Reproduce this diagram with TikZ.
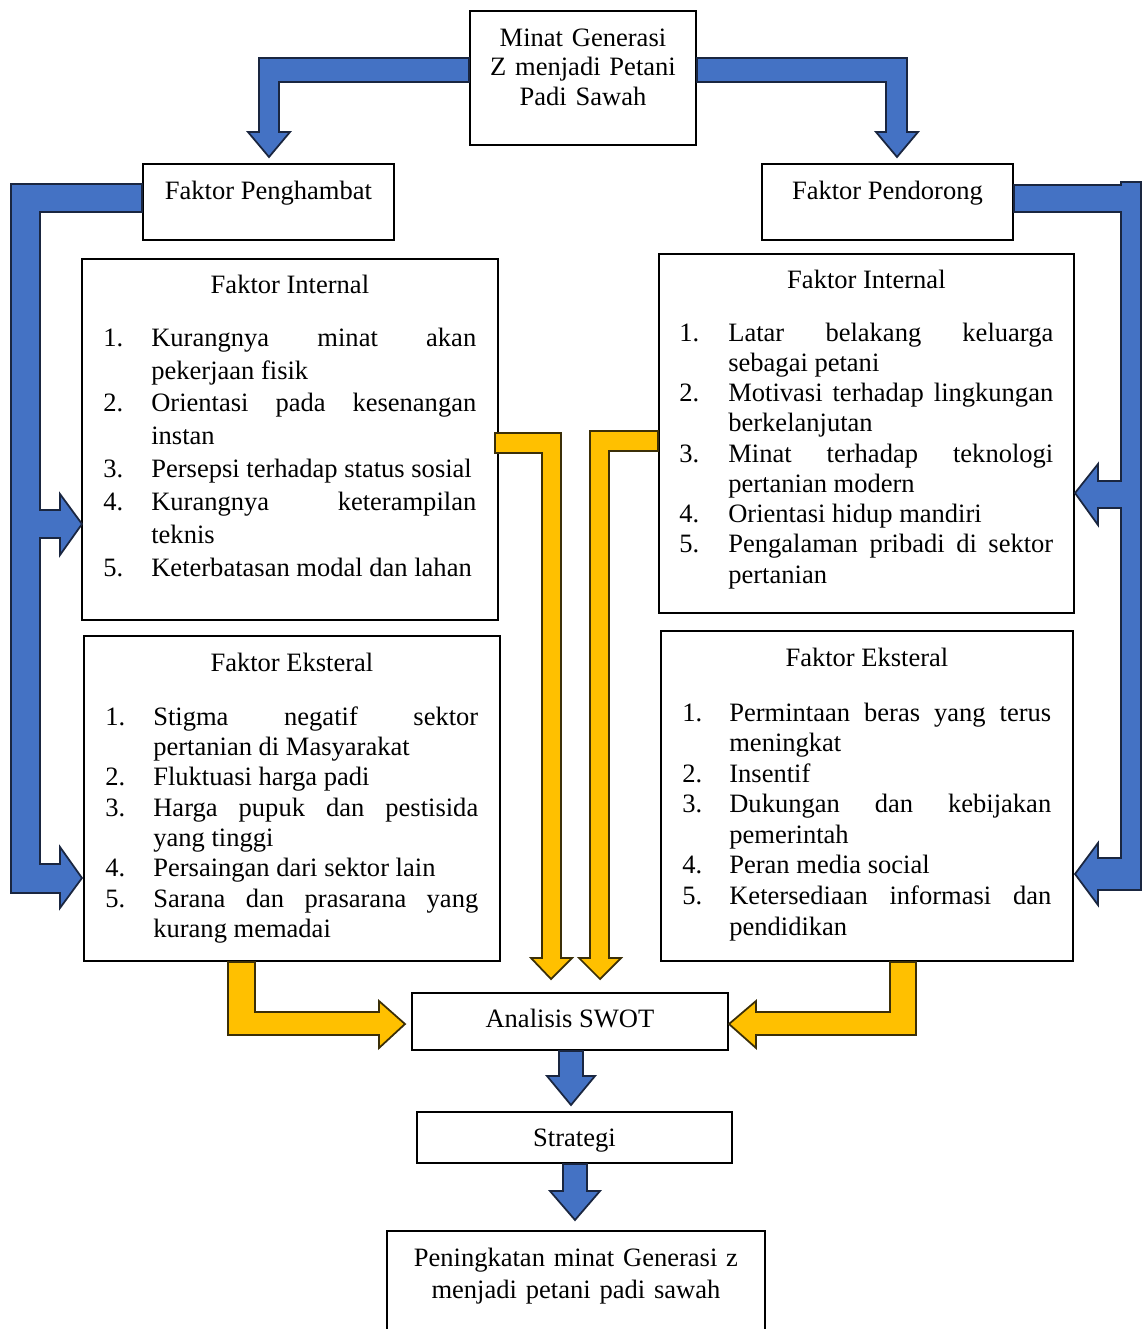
\documentclass[tikz,border=0pt]{standalone}
\usepackage{fontspec}
\setmainfont{Liberation Serif}
\usetikzlibrary{calc}

\definecolor{biru}{HTML}{4472C4}
\definecolor{birugaris}{HTML}{1A2640}
\definecolor{kuning}{HTML}{FFC000}
\definecolor{kuninggaris}{HTML}{3B2F08}

\newlength\hangw
\newcommand\butir[2]{\hangindent=\hangw\hangafter=1\noindent\makebox[\hangw][l]{#1}#2\par}

\tikzset{
  kotak/.style = {draw, line width=1.1pt, inner sep=0pt, anchor=north west},
  judul/.style = {anchor=base, inner sep=0pt},
  daftar/.style = {anchor=base west, inner sep=0pt, align=justify},
  panahbiru/.style = {fill=biru, draw=birugaris, line width=1pt, line join=miter},
  panahkuning/.style = {fill=kuning, draw=kuninggaris, line width=1pt, line join=miter}
}

\begin{document}
\begin{tikzpicture}[x=0.02cm, y=-0.02cm, font=\fontsize{15.1}{17.4}\selectfont]
\useasboundingbox (0,0) rectangle (1143,1329);
\clip (0,0) rectangle (1143,1329);

% kotak
\node[kotak, minimum width=4.52cm, minimum height=2.68cm] (minat) at (469,10) {};
\node[kotak, minimum width=5.02cm, minimum height=1.52cm] (hambat) at (142,163) {};
\node[kotak, minimum width=5.02cm, minimum height=1.52cm] (dorong) at (761,163) {};
\node[kotak, minimum width=8.32cm, minimum height=7.22cm] (inthambat) at (81,258) {};
\node[kotak, minimum width=8.32cm, minimum height=6.50cm] (ekshambat) at (83,635) {};
\node[kotak, minimum width=8.30cm, minimum height=7.18cm] (intdorong) at (658,253) {};
\node[kotak, minimum width=8.24cm, minimum height=6.60cm] (eksdorong) at (660,630) {};
\node[kotak, minimum width=6.32cm, minimum height=1.14cm] (swot) at (411,992) {};
\node[kotak, minimum width=6.30cm, minimum height=1.02cm] (strategi) at (416,1111) {};
\node[kotak, minimum width=7.56cm, minimum height=2.80cm] (hasil) at (386,1230) {};

% teks
\node[judul, text width=4.4cm, align=center, font=\fontsize{15.1}{17.07}\selectfont] (minat-t) at (minat.north |- 0,46) {Minat Generasi\\ Z menjadi Petani\\ Padi Sawah};
\node[judul] (hambat-t) at (hambat.north |- 0,199) {Faktor Penghambat};
\node[judul] (dorong-t) at (dorong.north |- 0,199) {Faktor Pendorong};
\node[judul] (inthambat-t) at (inthambat.north |- 0,293) {Faktor Internal};
\node[judul] (ekshambat-t) at (ekshambat.north |- 0,671) {Faktor Eksteral};
\node[judul] (intdorong-t) at (intdorong.north |- 0,288) {Faktor Internal};
\node[judul] (eksdorong-t) at (eksdorong.north |- 0,666) {Faktor Eksteral};
\node[judul] (swot-t) at (swot.north |- 0,1027) {Analisis SWOT};
\node[judul] (strategi-t) at (strategi.north |- 0,1146) {Strategi};
\node[judul, text width=7.2cm, align=center, font=\fontsize{15.1}{18.21}\selectfont] (hasil-t) at (hasil.north |- 0,1266) {Peningkatan minat Generasi z\\ menjadi petani padi sawah};

\node[daftar, text width=7.46cm, font=\fontsize{15.1}{18.78}\selectfont] (inthambat-d) at (103,346) {\setlength\hangw{0.96cm}\hyphenpenalty=10000\tolerance=10000%
  \butir{1.}{Kurangnya minat akan\linebreak pekerjaan fisik}
  \butir{2.}{Orientasi pada kesenangan\linebreak instan}
  \butir{3.}{Persepsi terhadap status sosial}
  \butir{4.}{Kurangnya keterampilan\linebreak teknis}
  \butir{5.}{Keterbatasan modal dan lahan}};
\node[daftar, text width=7.46cm, font=\fontsize{15.1}{17.30}\selectfont] (ekshambat-d) at (105,725) {\setlength\hangw{0.96cm}\hyphenpenalty=10000\tolerance=10000%
  \butir{1.}{Stigma negatif sektor\linebreak pertanian di Masyarakat}
  \butir{2.}{Fluktuasi harga padi}
  \butir{3.}{Harga pupuk dan pestisida\linebreak yang tinggi}
  \butir{4.}{Persaingan dari sektor lain}
  \butir{5.}{Sarana dan prasarana yang\linebreak kurang memadai}};
\node[daftar, text width=7.48cm, font=\fontsize{15.1}{17.22}\selectfont] (intdorong-d) at (679,341) {\setlength\hangw{0.98cm}\hyphenpenalty=10000\tolerance=10000%
  \butir{1.}{Latar belakang keluarga\linebreak sebagai petani}
  \butir{2.}{Motivasi terhadap lingkungan\linebreak berkelanjutan}
  \butir{3.}{Minat terhadap teknologi\linebreak pertanian modern}
  \butir{4.}{Orientasi hidup mandiri}
  \butir{5.}{Pengalaman pribadi di sektor\linebreak pertanian}};
\node[daftar, text width=7.38cm, font=\fontsize{15.1}{17.41}\selectfont] (eksdorong-d) at (682,721) {\setlength\hangw{0.94cm}\hyphenpenalty=10000\tolerance=10000%
  \butir{1.}{Permintaan beras yang terus\linebreak meningkat}
  \butir{2.}{Insentif}
  \butir{3.}{Dukungan dan kebijakan\linebreak pemerintah}
  \butir{4.}{Peran media social}
  \butir{5.}{Ketersediaan informasi dan\linebreak pendidikan}};

% panah biru
\draw[panahbiru] (minat.west |- 0,58) -- (259,58) -- (259,132) -- (248,132) -- (269,157) -- (290,132) -- (279,132) -- (279,82) -- (minat.west |- 0,82) -- cycle;
\draw[panahbiru] (minat.east |- 0,58) -- (907,58) -- (907,132) -- (918,132) -- (897,157) -- (876,132) -- (886,132) -- (886,82) -- (minat.east |- 0,82) -- cycle;
\draw[panahbiru] (hambat.west |- 0,184) -- (11,184) -- (11,893) -- (60,893) -- (60,908) -- (82,878) -- (60,847) -- (60,864) -- (40,864) -- (40,538) -- (60,538) -- (60,555) -- (82,524) -- (60,494) -- (60,510) -- (40,510) -- (40,212) -- (hambat.west |- 0,212) -- cycle;
\draw[panahbiru] (dorong.east |- 0,185) -- (1121,185) -- (1121,182) -- (1141,182) -- (1141,890) -- (1098,890) -- (1098,905) -- (1075,874) -- (1098,843) -- (1098,858) -- (1121,858) -- (1121,508) -- (1098,508) -- (1098,525) -- (1075,493) -- (1098,464) -- (1098,481) -- (1121,481) -- (1121,212) -- (dorong.east |- 0,212) -- cycle;
\draw[panahbiru] (swot.south -| 559,0) -- (559,1076) -- (547,1076) -- (571,1105) -- (595,1076) -- (583,1076) -- (swot.south -| 583,0) -- cycle;
\draw[panahbiru] (strategi.south -| 563,0) -- (563,1191) -- (550,1191) -- (575,1220) -- (600,1191) -- (587,1191) -- (strategi.south -| 587,0) -- cycle;

% panah kuning
\draw[panahkuning] (495,433) -- (561,433) -- (561,958) -- (572,958) -- (551,979) -- (531,958) -- (542,958) -- (542,453) -- (495,453) -- cycle;
\draw[panahkuning] (intdorong.west |- 0,431) -- (590,431) -- (590,958) -- (579,958) -- (600,979) -- (621,958) -- (609,958) -- (609,451) -- (intdorong.west |- 0,451) -- cycle;
\draw[panahkuning] (ekshambat.south -| 228,0) -- (228,1035) -- (379,1035) -- (379,1048) -- (405,1024) -- (379,1001) -- (379,1012) -- (255,1012) -- (ekshambat.south -| 255,0) -- cycle;
\draw[panahkuning] (eksdorong.south -| 890,0) -- (890,1012) -- (756,1012) -- (756,1001) -- (729,1024) -- (756,1048) -- (756,1035) -- (916,1035) -- (eksdorong.south -| 916,0) -- cycle;

\end{tikzpicture}
\end{document}
